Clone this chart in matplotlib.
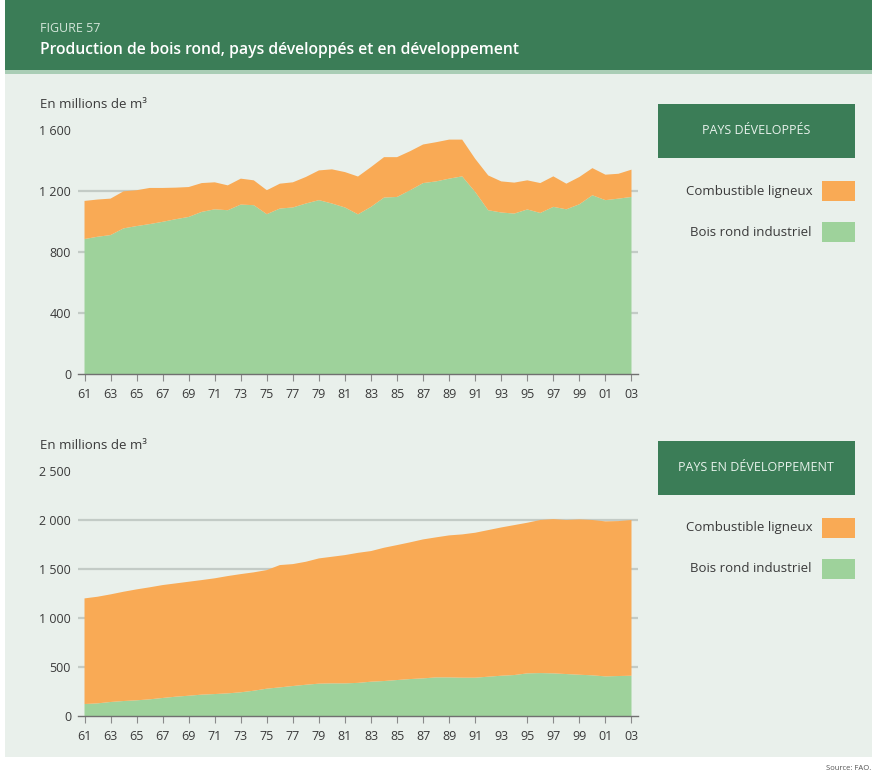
import matplotlib
matplotlib.use('Agg')
import matplotlib.pyplot as plt
from matplotlib.patches import Rectangle
import numpy as np

plt.rcParams['font.family'] = ['Open Sans', 'DejaVu Sans']

years = np.arange(1961, 2004)
tick_years = [1961, 1963, 1965, 1967, 1969, 1971, 1973, 1975, 1977, 1979, 1981,
              1983, 1985, 1987, 1989, 1991, 1993, 1995, 1997, 1999, 2001, 2003]
tick_labels = ['61', '63', '65', '67', '69', '71', '73', '75', '77', '79', '81',
               '83', '85', '87', '89', '91', '93', '95', '97', '99', '01', '03']

# pays developpes (millions m3)
indus_dev = [885, 900, 911, 955, 970, 983, 998, 1015, 1030, 1063, 1080, 1074, 1111, 1107,
             1048, 1085, 1092, 1118, 1140, 1118, 1092, 1047, 1096, 1157, 1161, 1205, 1252,
             1263, 1281, 1296, 1194, 1074, 1059, 1052, 1079, 1056, 1096, 1080, 1113, 1172,
             1140, 1150, 1161]
fuel_dev = [250, 244, 239, 243, 235, 237, 222, 207, 196, 189, 177, 163, 170, 163, 157, 163,
            165, 174, 195, 224, 232, 248, 261, 265, 261, 256, 253, 257, 256, 241, 217, 228,
            204, 203, 191, 196, 200, 168, 179, 178, 167, 163, 179]

# pays en developpement
indus_dvp = [122, 129, 143, 153, 160, 170, 184, 197, 207, 218, 224, 231, 242, 258, 279, 292,
             306, 319, 330, 333, 333, 338, 350, 357, 367, 377, 384, 394, 394, 391, 391, 401,
             411, 418, 435, 438, 435, 428, 421, 415, 404, 408, 411]
fuel_dvp = [1078, 1088, 1098, 1115, 1132, 1143, 1152, 1156, 1163, 1169, 1181, 1197, 1206,
            1208, 1210, 1248, 1244, 1255, 1278, 1292, 1309, 1327, 1333, 1360, 1377, 1395,
            1418, 1429, 1449, 1462, 1479, 1496, 1513, 1530, 1537, 1562, 1574, 1572, 1585,
            1585, 1582, 1581, 1589]

yticks_dev = [0, 400, 800, 1200, 1600]
yticks_dvp = [0, 500, 1000, 1500, 2000, 2500]

ORANGE = '#f9aa55'
GREEN = '#9ed29b'
DKGREEN = '#3b7d57'
BG = '#e9f0eb'
TXT = '#3a3a3a'

W, H = 877, 778
fig = plt.figure(figsize=(W / 100, H / 100), dpi=100)
fig.patch.set_facecolor('white')


def box(x0, y0, x1, y1, color, z=-2):
    fig.patches.append(Rectangle((x0 / W, 1 - y1 / H), (x1 - x0) / W, (y1 - y0) / H,
                                 transform=fig.transFigure, facecolor=color,
                                 edgecolor='none', zorder=z))


def txt(x, y, s, **kw):
    fig.text(x / W, 1 - y / H, s, **kw)


# fond et bandeau
box(5, 72, 872, 757, BG, -3)
box(5, 0, 872, 72, DKGREEN)
box(5, 70, 872, 74, '#a9cdb5')
txt(40, 28, 'FIGURE 57', color='#d4e6da', fontsize=9, va='center')
txt(40, 50, 'Production de bois rond, pays développés et en développement',
    color='white', fontsize=11.3, va='center', fontweight='semibold')
txt(871, 768, 'Source: FAO.', color='#555555', fontsize=5.5, ha='right', va='center')


def panel(top_px, bot_px, indus, fuel, yticks, title, box_top, missing_tick=None):
    ax = fig.add_axes([78 / W, 1 - bot_px / H, 560 / W, (bot_px - top_px) / H])
    ax.set_facecolor('none')
    ax.stackplot(years, indus, fuel, colors=[GREEN, ORANGE], linewidth=0, zorder=2)
    for v in yticks[1:-1]:
        ax.axhline(v, color='#c3cbc6', lw=1.6, zorder=1)
    ax.set_xlim(1960.5, 2003.5)
    ax.set_ylim(0, yticks[-1])
    ax.set_yticks(yticks)
    ax.set_yticklabels([f'{v:,}'.replace(',', ' ') for v in yticks])
    ax.set_xticks(tick_years)
    ax.set_xticklabels(tick_labels)
    for s in ['top', 'right', 'left']:
        ax.spines[s].set_visible(False)
    ax.spines['bottom'].set_color('#707070')
    ax.spines['bottom'].set_linewidth(1.0)
    ax.spines['bottom'].set_zorder(3)
    ax.tick_params(axis='y', length=0, pad=5, labelsize=9, labelcolor=TXT)
    ax.tick_params(axis='x', length=5, width=0.8, color='#8a8a8a', pad=5,
                   labelsize=9, labelcolor=TXT)
    if missing_tick is not None:
        ax.xaxis.get_major_ticks()[tick_years.index(missing_tick)].tick1line.set_visible(False)
    txt(40, top_px - 26, 'En millions de m³', color=TXT, fontsize=9.5, va='center')

    # legende
    box(658, box_top, 855, box_top + 54, DKGREEN)
    txt(756, box_top + 27, title, color='#e8f2ec', fontsize=9, ha='center', va='center')
    for k, (lab, col) in enumerate([('Combustible ligneux', ORANGE),
                                    ('Bois rond industriel', GREEN)]):
        yc = box_top + 87 + 41 * k
        box(822, yc - 10, 855, yc + 10, col)
        txt(812, yc, lab, color=TXT, fontsize=9.5, ha='right', va='center')
    return ax


panel(130, 374, indus_dev, fuel_dev, yticks_dev, 'PAYS DÉVELOPPÉS', 104)
panel(471, 716, indus_dvp, fuel_dvp, yticks_dvp, 'PAYS EN DÉVELOPPEMENT', 441,
      missing_tick=1993)

fig.savefig('out.png', dpi=100, facecolor=fig.get_facecolor())
